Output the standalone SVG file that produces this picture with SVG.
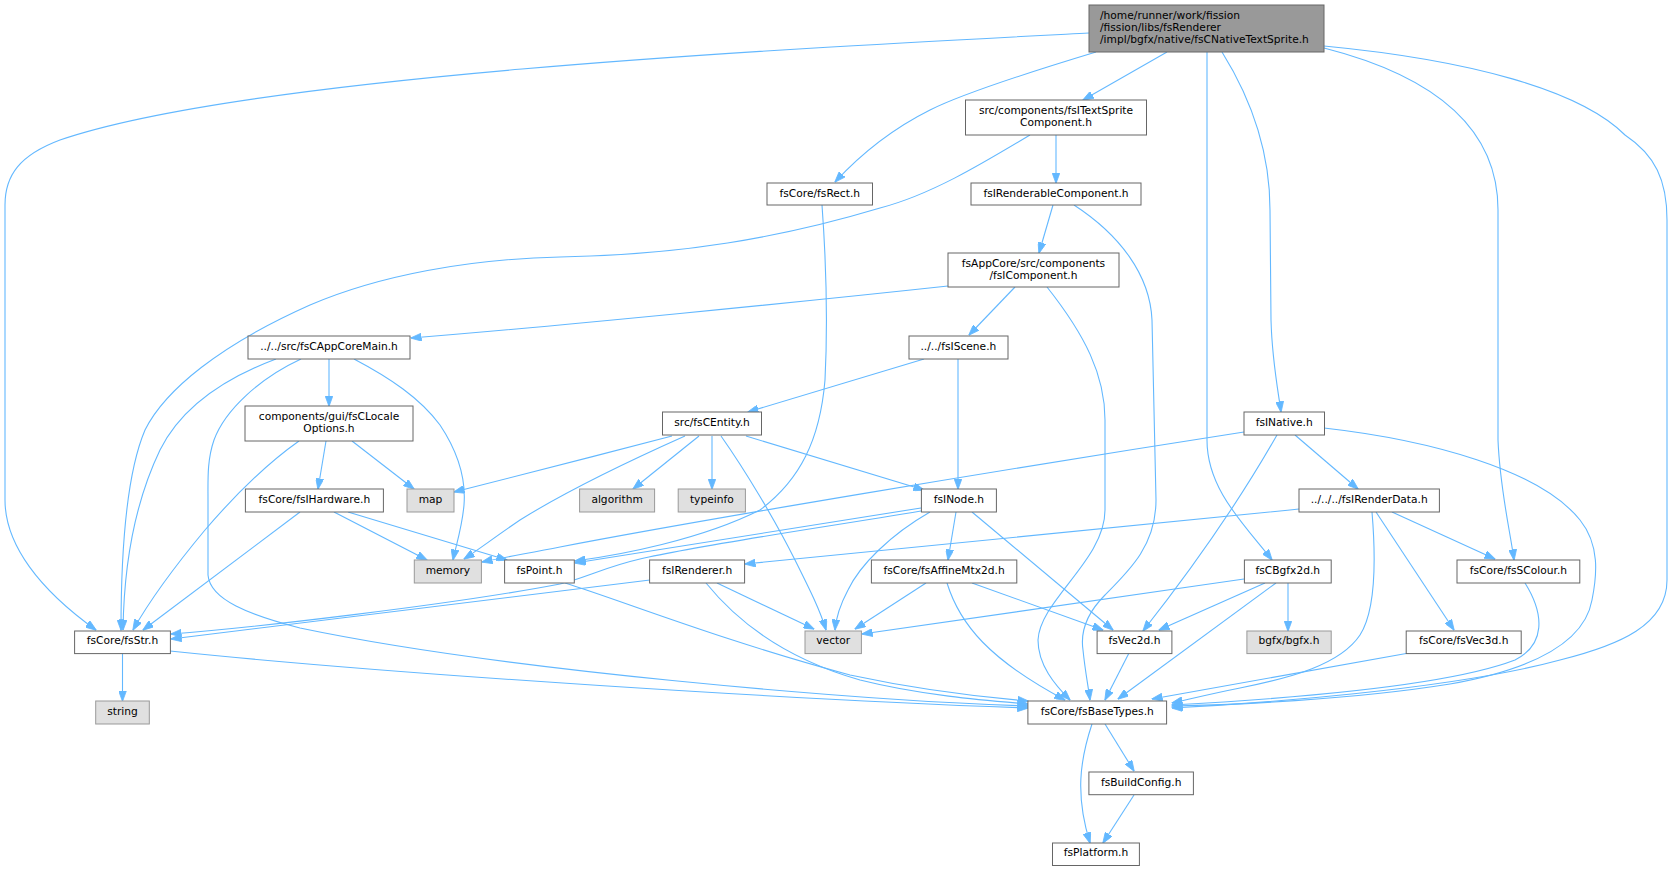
<svg xmlns="http://www.w3.org/2000/svg" width="1673" height="871" viewBox="0 0 1673 871">
<style>
.n rect{fill:#ffffff;stroke:#666666;stroke-width:1}
.s rect{fill:#e0e0e0;stroke:#999999;stroke-width:1}
.r rect{fill:#999999;stroke:#666666;stroke-width:1}
text{font-family:"DejaVu Sans","Liberation Sans",sans-serif;font-size:10.67px;fill:#000000;text-anchor:middle}
.r text{text-anchor:start}
#edges path{fill:none;stroke:#63b8ff;stroke-width:1.1;marker-end:url(#ah)}
</style>
<defs>
<marker id="ah" viewBox="0 0 11 8" refX="10.5" refY="4" markerWidth="11" markerHeight="8" markerUnits="userSpaceOnUse" orient="auto">
<path d="M0,0 L11,4 L0,8 z" fill="#63b8ff" stroke="#63b8ff" stroke-width="0.8"/>
</marker>
</defs>
<rect width="1673" height="871" fill="#ffffff"/>
<g id="edges">
<path d="M1089,33 C800,48 250,75 60,140 C20,155 5,175 5,205 L5,500 C5,545 40,590 96,630"/>
<path d="M1096,52 C1010,78 960,95 930,110 C890,130 860,155 835,182"/>
<path d="M1167,52 L1083,100"/>
<path d="M1056,135 L1056,183"/>
<path d="M1030,135 C980,165 930,195 880,208 C780,238 680,255 560,257 C470,259 380,275 310,305 C220,345 165,390 145,430 C128,470 121,540 121,630"/>
<path d="M1207,52 L1207,440 C1207,490 1245,525 1272,560"/>
<path d="M1222,52 C1255,105 1270,160 1270,210 L1271,320 C1272,360 1278,390 1281,412"/>
<path d="M1324,48 C1430,75 1498,125 1498,210 L1498,440 C1500,490 1510,530 1514,560"/>
<path d="M1324,46 C1470,60 1580,90 1625,135 C1655,155 1667,180 1667,220 L1667,580 C1667,625 1620,645 1560,660 C1450,690 1250,704 1172,708"/>
<path d="M1053,205 L1039,253"/>
<path d="M1074,205 C1120,235 1150,275 1152,320 L1156,500 C1156,545 1130,570 1105,595 C1088,612 1080,630 1083,650 C1085,670 1088,685 1090,700"/>
<path d="M948,286 C800,302 560,326 411,338"/>
<path d="M1015,287 L969,335"/>
<path d="M1047,287 C1085,335 1105,375 1105,420 L1105,510 C1105,560 1040,600 1038,640 C1038,665 1055,685 1070,700"/>
<path d="M924,359 L748,412"/>
<path d="M958,359 L958,489"/>
<path d="M329,359 L329,406"/>
<path d="M354,359 C390,378 420,398 440,425 C460,455 466,480 464,505 C462,528 456,545 453,560"/>
<path d="M276,359 C220,380 180,410 160,450 C136,500 124,560 123,630"/>
<path d="M301,359 C260,378 225,410 214,440 C207,460 208,480 208,500 L208,575 C210,600 250,615 300,628 C500,670 850,700 1028,706"/>
<path d="M326,441 L318,489"/>
<path d="M352,441 L414,489"/>
<path d="M299,441 C265,465 235,495 205,530 C180,560 150,600 133,630"/>
<path d="M334,512 L427,560"/>
<path d="M348,512 L507,560"/>
<path d="M300,512 L143,630"/>
<path d="M672,436 C600,455 520,475 454,492"/>
<path d="M685,436 C620,465 560,495 520,520 C495,537 478,550 464,559"/>
<path d="M699,436 L633,489"/>
<path d="M712,436 L712,489"/>
<path d="M746,436 L924,490"/>
<path d="M721,436 C745,470 775,520 795,560 C810,590 820,610 826,630"/>
<path d="M921,508 L575,563"/>
<path d="M921,511 C820,528 700,545 640,559 C605,567 585,578 560,584 C450,605 250,628 171,634"/>
<path d="M956,512 L948,560"/>
<path d="M930,512 C890,535 860,565 848,590 C840,605 836,618 835,630"/>
<path d="M972,512 L1113,630"/>
<path d="M1295,435 L1358,489"/>
<path d="M1244,432 C1000,470 700,520 560,547 C530,553 505,557 482,562"/>
<path d="M1277,435 C1240,500 1195,565 1143,631"/>
<path d="M1324,428 C1430,440 1540,470 1580,520 C1600,545 1597,575 1592,600 C1585,640 1540,668 1450,684 C1350,700 1230,705 1172,706"/>
<path d="M1299,509 C1100,530 900,550 745,564"/>
<path d="M1392,512 L1495,559"/>
<path d="M1372,512 C1376,560 1376,610 1360,635 C1340,665 1290,678 1240,688 C1210,694 1190,699 1172,703"/>
<path d="M1376,512 L1454,630"/>
<path d="M1288,583 L1288,631"/>
<path d="M1265,583 L1159,630"/>
<path d="M1276,583 L1118,699"/>
<path d="M1244,579 C1100,600 950,622 862,634"/>
<path d="M926,583 L855,629"/>
<path d="M972,583 L1103,630"/>
<path d="M947,583 C960,625 990,660 1065,700"/>
<path d="M717,583 L814,629"/>
<path d="M706,583 C740,625 790,660 860,680 C920,695 980,700 1028,704"/>
<path d="M650,580 L171,639"/>
<path d="M565,583 C620,600 720,640 850,675 C920,690 980,697 1028,701"/>
<path d="M822,205 C826,260 828,320 825,380 C820,440 800,480 760,510 C700,540 620,555 575,561"/>
<path d="M122.5,653 L122.5,701"/>
<path d="M170,651 C400,675 800,700 1028,708"/>
<path d="M1129,653 L1105,700"/>
<path d="M1409,653 L1152,699"/>
<path d="M1525,583 C1545,615 1545,645 1515,660 C1450,685 1300,698 1172,705"/>
<path d="M1105,724 L1134,771"/>
<path d="M1092,724 C1080,760 1075,795 1090,843"/>
<path d="M1134,795 L1103,843"/>
</g>
<g id="node-root" class="r"><rect x="1089" y="5" width="235" height="47"/><text x="1100" y="19.3">/home/runner/work/fission</text><text x="1100" y="31.3">/fission/libs/fsRenderer</text><text x="1100" y="43.3">/impl/bgfx/native/fsCNativeTextSprite.h</text></g>
<g id="node-fsITextSpriteComponent" class="n"><rect x="965.5" y="100" width="181" height="35"/><text x="1056" y="114">src/components/fsITextSprite</text><text x="1056" y="126">Component.h</text></g>
<g id="node-fsRect" class="n"><rect x="767" y="183" width="105.5" height="22"/><text x="819.8" y="196.5">fsCore/fsRect.h</text></g>
<g id="node-fsIRenderableComponent" class="n"><rect x="971" y="183" width="170" height="22"/><text x="1056" y="196.5">fsIRenderableComponent.h</text></g>
<g id="node-fsIComponent" class="n"><rect x="948" y="253" width="171" height="34"/><text x="1033.5" y="267">fsAppCore/src/components</text><text x="1033.5" y="279">/fsIComponent.h</text></g>
<g id="node-fsCAppCoreMain" class="n"><rect x="248" y="336" width="162" height="23"/><text x="329" y="350">../../src/fsCAppCoreMain.h</text></g>
<g id="node-fsIScene" class="n"><rect x="909" y="336" width="99" height="23"/><text x="958.4" y="350">../../fsIScene.h</text></g>
<g id="node-fsCLocaleOptions" class="n"><rect x="245" y="406" width="168" height="35"/><text x="329" y="420.4">components/gui/fsCLocale</text><text x="329" y="432">Options.h</text></g>
<g id="node-fsCEntity" class="n"><rect x="662.5" y="412" width="99" height="23"/><text x="712" y="426.4">src/fsCEntity.h</text></g>
<g id="node-fsINative" class="n"><rect x="1244" y="412" width="80.5" height="23"/><text x="1284.2" y="426.4">fsINative.h</text></g>
<g id="node-fsIHardware" class="n"><rect x="245.4" y="489" width="138" height="23"/><text x="314.4" y="503">fsCore/fsIHardware.h</text></g>
<g id="node-map" class="s"><rect x="407" y="489" width="47" height="23"/><text x="430.5" y="503">map</text></g>
<g id="node-algorithm" class="s"><rect x="579.6" y="489" width="75" height="23"/><text x="617.1" y="503">algorithm</text></g>
<g id="node-typeinfo" class="s"><rect x="678.2" y="489" width="67.2" height="23"/><text x="711.8" y="503">typeinfo</text></g>
<g id="node-fsINode" class="n"><rect x="921.4" y="489" width="75" height="23"/><text x="958.9" y="503">fsINode.h</text></g>
<g id="node-fsIRenderData" class="n"><rect x="1299" y="489" width="140.4" height="23"/><text x="1369.2" y="503">../../../fsIRenderData.h</text></g>
<g id="node-memory" class="s"><rect x="414.3" y="560" width="67.1" height="23"/><text x="447.9" y="573.7">memory</text></g>
<g id="node-fsPoint" class="n"><rect x="504.6" y="560" width="69.7" height="23"/><text x="539.5" y="573.7">fsPoint.h</text></g>
<g id="node-fsIRenderer" class="n"><rect x="649.6" y="560" width="95" height="23"/><text x="697.1" y="573.7">fsIRenderer.h</text></g>
<g id="node-fsAffineMtx2d" class="n"><rect x="871.4" y="560" width="145.4" height="23"/><text x="944.1" y="573.7">fsCore/fsAffineMtx2d.h</text></g>
<g id="node-fsCBgfx2d" class="n"><rect x="1244.4" y="560" width="86.8" height="23"/><text x="1287.8" y="573.7">fsCBgfx2d.h</text></g>
<g id="node-fsSColour" class="n"><rect x="1457" y="560" width="122.8" height="23"/><text x="1518.4" y="573.7">fsCore/fsSColour.h</text></g>
<g id="node-fsStr" class="n"><rect x="74.6" y="631" width="95.8" height="22.6"/><text x="122.5" y="644.4">fsCore/fsStr.h</text></g>
<g id="node-vector" class="s"><rect x="805" y="631" width="56.4" height="22.6"/><text x="833.2" y="644.4">vector</text></g>
<g id="node-fsVec2d" class="n"><rect x="1097.1" y="631" width="74.8" height="22.6"/><text x="1134.5" y="644.4">fsVec2d.h</text></g>
<g id="node-bgfx" class="s"><rect x="1246.9" y="631" width="84.3" height="22.6"/><text x="1289" y="644.4">bgfx/bgfx.h</text></g>
<g id="node-fsVec3d" class="n"><rect x="1406.2" y="631" width="115" height="22.6"/><text x="1463.7" y="644.4">fsCore/fsVec3d.h</text></g>
<g id="node-string" class="s"><rect x="95.7" y="701" width="53.6" height="23"/><text x="122.5" y="715">string</text></g>
<g id="node-fsBaseTypes" class="n"><rect x="1027.9" y="701" width="138.7" height="23"/><text x="1097.3" y="715">fsCore/fsBaseTypes.h</text></g>
<g id="node-fsBuildConfig" class="n"><rect x="1088.9" y="772" width="104.5" height="22.7"/><text x="1141.2" y="785.7">fsBuildConfig.h</text></g>
<g id="node-fsPlatform" class="n"><rect x="1052.5" y="843" width="86.9" height="22.5"/><text x="1096" y="856.4">fsPlatform.h</text></g>
</svg>
